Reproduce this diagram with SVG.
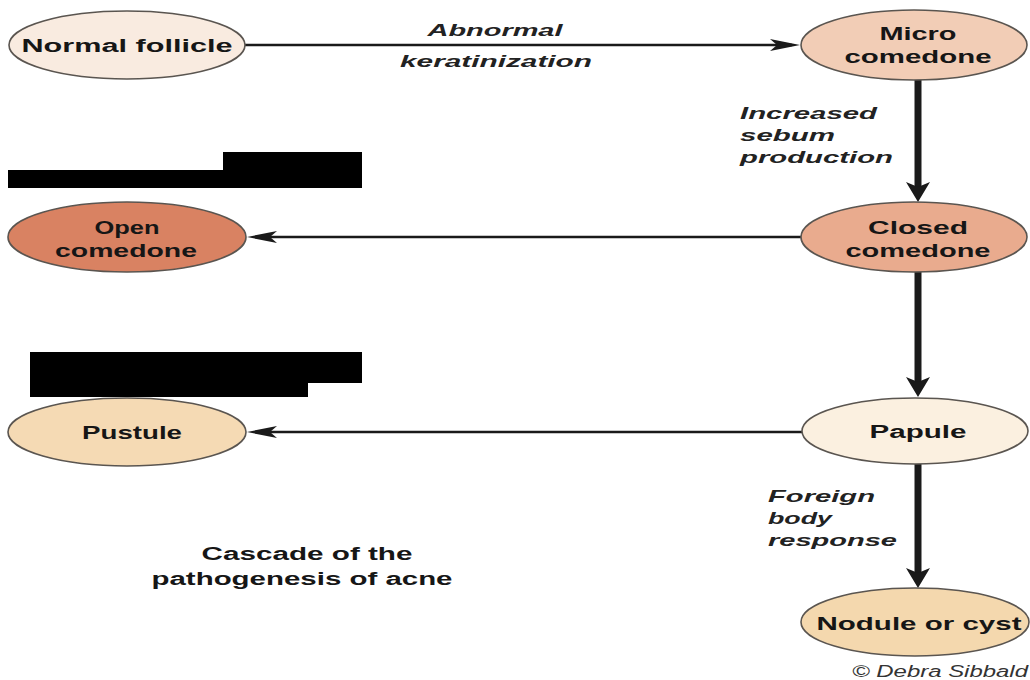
<svg xmlns="http://www.w3.org/2000/svg" width="1030" height="680" viewBox="0 0 1030 680">
<style>
.node ellipse{stroke:#5a5550;stroke-width:1.6}
.nt{font-family:"Liberation Sans",Arial,sans-serif;font-weight:bold;font-size:18px;fill:#161616;text-anchor:middle}
.lb{font-family:"Liberation Sans",Arial,sans-serif;font-weight:bold;font-style:italic;font-size:17px;fill:#222}
.thin{stroke:#1a1a1a;stroke-width:2.5;fill:none;marker-end:url(#ah)}
.thick{stroke:#1a1a1a;stroke-width:7;fill:none;marker-end:url(#ahb)}
</style>
<defs>
<marker id="ah" viewBox="0 0 30 12" refX="22" refY="6" markerWidth="30" markerHeight="12" markerUnits="userSpaceOnUse" orient="auto"><path d="M0,0 L30,6 L0,12 L7,6 Z" fill="#1a1a1a"/></marker>
<marker id="ahb" viewBox="0 0 20 24" refX="10" refY="12" markerWidth="20" markerHeight="24" markerUnits="userSpaceOnUse" orient="auto"><path d="M0,0 L20,12 L0,24 L5,12 Z" fill="#1a1a1a"/></marker>
</defs>
<rect width="1030" height="680" fill="#fff"/>
<g id="connectors">
<path class="thin" d="M245,45 L792,45"/>
<path class="thick" d="M918,80 L918,192"/>
<path class="thin" d="M801,237 L255,237"/>
<path class="thick" d="M918,272 L918,387"/>
<path class="thin" d="M802,432 L255,432"/>
<path class="thick" d="M918,464 L918,578"/>
</g>
<g id="edge-labels">
<text class="lb" x="495" y="36" text-anchor="middle" textLength="135" lengthAdjust="spacingAndGlyphs">Abnormal</text>
<text class="lb" x="496" y="67" text-anchor="middle" textLength="192" lengthAdjust="spacingAndGlyphs">keratinization</text>
<text class="lb" x="740" y="119" textLength="137" lengthAdjust="spacingAndGlyphs">Increased</text>
<text class="lb" x="740" y="141" textLength="95" lengthAdjust="spacingAndGlyphs">sebum</text>
<text class="lb" x="740" y="163" textLength="153" lengthAdjust="spacingAndGlyphs">production</text>
<text class="lb" x="768" y="502" textLength="107" lengthAdjust="spacingAndGlyphs">Foreign</text>
<text class="lb" x="768" y="524" textLength="64" lengthAdjust="spacingAndGlyphs">body</text>
<text class="lb" x="768" y="546" textLength="129" lengthAdjust="spacingAndGlyphs">response</text>
</g>
<g id="normal-follicle" class="node">
<ellipse cx="127" cy="45" rx="118" ry="34" fill="#f9ebe0"/>
<text class="nt" x="127" y="52" textLength="211" lengthAdjust="spacingAndGlyphs">Normal follicle</text>
</g>
<g id="micro-comedone" class="node">
<ellipse cx="914" cy="45" rx="113" ry="35" fill="#f2cdb6"/>
<text class="nt" x="918" y="40" textLength="77" lengthAdjust="spacingAndGlyphs">Micro</text>
<text class="nt" x="918" y="63" textLength="147" lengthAdjust="spacingAndGlyphs">comedone</text>
</g>
<g id="closed-comedone" class="node">
<ellipse cx="914" cy="237" rx="113" ry="35" fill="#e9ab8e"/>
<text class="nt" x="918" y="234" textLength="100" lengthAdjust="spacingAndGlyphs">Closed</text>
<text class="nt" x="918" y="257" textLength="145" lengthAdjust="spacingAndGlyphs">comedone</text>
</g>
<g id="open-comedone" class="node">
<ellipse cx="127" cy="237" rx="119" ry="35" fill="#d98262"/>
<text class="nt" x="127" y="234" textLength="65" lengthAdjust="spacingAndGlyphs">Open</text>
<text class="nt" x="126" y="257" textLength="142" lengthAdjust="spacingAndGlyphs">comedone</text>
</g>
<g id="papule" class="node">
<ellipse cx="915" cy="431" rx="113" ry="33" fill="#fbf0e0"/>
<text class="nt" x="918" y="438" textLength="97" lengthAdjust="spacingAndGlyphs">Papule</text>
</g>
<g id="pustule" class="node">
<ellipse cx="127" cy="432" rx="119" ry="34" fill="#f5dab4"/>
<text class="nt" x="132" y="439" textLength="100" lengthAdjust="spacingAndGlyphs">Pustule</text>
</g>
<g id="nodule-or-cyst" class="node">
<ellipse cx="915" cy="622" rx="114" ry="34" fill="#f4d8ae"/>
<text class="nt" x="919" y="630" textLength="205" lengthAdjust="spacingAndGlyphs">Nodule or cyst</text>
</g>
<g id="redactions">
<polygon points="8,170 223,170 223,152 362,152 362,188 8,188" fill="#000"/>
<polygon points="30,352 362,352 362,383 308,383 308,397 30,397" fill="#000"/>
</g>
<g id="caption">
<text class="nt" x="307" y="560" textLength="211" lengthAdjust="spacingAndGlyphs">Cascade of the</text>
<text class="nt" x="302" y="585" textLength="301" lengthAdjust="spacingAndGlyphs">pathogenesis of acne</text>
<text x="852" y="677" font-family="'Liberation Sans',Arial,sans-serif" font-style="italic" font-size="16" fill="#333" textLength="176" lengthAdjust="spacingAndGlyphs">© Debra Sibbald</text>
</g>
</svg>
